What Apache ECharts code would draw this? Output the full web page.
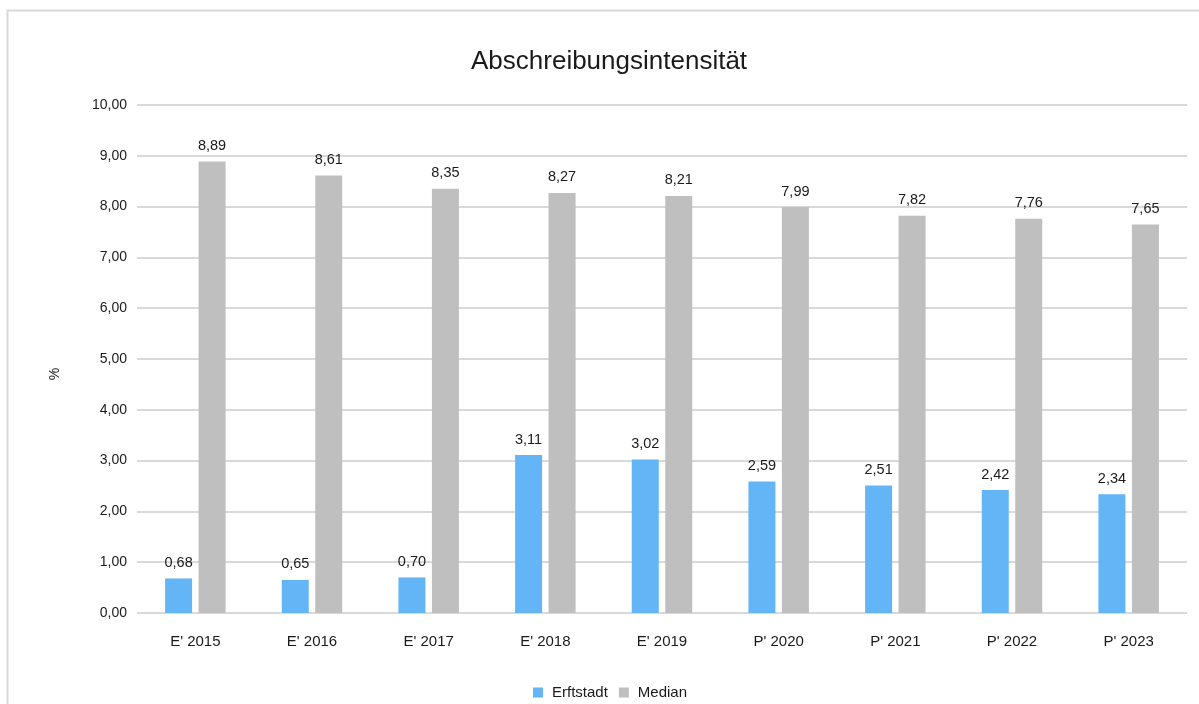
<!DOCTYPE html>
<html><head><meta charset="utf-8">
<script src="https://cdn.jsdelivr.net/npm/echarts@6/dist/echarts.min.js"></script>
<style>html,body{margin:0;padding:0;background:#fff}#c{width:1199px;height:704px}</style>
</head><body><div id="c"></div>
<script>
const categories = ["E' 2015","E' 2016","E' 2017","E' 2018","E' 2019","P' 2020","P' 2021","P' 2022","P' 2023"];
const erftstadt = [0.68,0.65,0.70,3.11,3.02,2.59,2.51,2.42,2.34];
const median = [8.89,8.61,8.35,8.27,8.21,7.99,7.82,7.76,7.65];
const fmt = v => Number(v).toFixed(2).replace('.', ',');
const chart = echarts.init(document.getElementById('c'), null, {renderer:'canvas'});
const font = 'Liberation Sans, Arial, sans-serif';
const lbl = {show:true, position:'top', distance:8, color:'#1a1a1a', fontSize:14.5, fontFamily:font, formatter:p=>fmt(p.value)};
chart.setOption({
  animation:false,
  graphic:[
    {type:'rect', shape:{x:7.5,y:10.5,width:1300,height:800}, style:{fill:'none', stroke:'#d9d9d9', lineWidth:2}, silent:true},
    {type:'text', x:55, y:374, rotation:Math.PI/2, style:{text:'%', fontFamily:font, fontSize:14, fill:'#1a1a1a', align:'center', verticalAlign:'middle'}, silent:true}
  ],
  title:{text:'Abschreibungsintensität', left:466, top:44, textStyle:{fontFamily:font, fontSize:26, fontWeight:'normal', color:'#1a1a1a'}},
  legend:{bottom:-1, left:528, itemWidth:10, itemHeight:10, itemGap:11, icon:'rect', textStyle:{fontFamily:font, fontSize:15, color:'#1a1a1a', padding:[0,0,0,4]}, data:['Erftstadt','Median']},
  grid:{left:137, right:12, top:105, bottom:91, containLabel:false},
  xAxis:{type:'category', data:categories, axisLine:{show:false}, axisTick:{show:false},
    axisLabel:{fontFamily:font, fontSize:15, color:'#1a1a1a', margin:21}},
  yAxis:{type:'value', min:0, max:10, interval:1,
    axisLabel:{fontFamily:font, fontSize:14, color:'#1a1a1a', margin:10, formatter:v=>fmt(v)},
    splitLine:{lineStyle:{color:'#d9d9d9', width:2}}, axisLine:{show:false}, axisTick:{show:false}},
  series:[
    {name:'Erftstadt', type:'bar', data:erftstadt, barWidth:27, barGap:'24%', itemStyle:{color:'#64b5f6'}, label:lbl},
    {name:'Median', type:'bar', data:median, barWidth:27, itemStyle:{color:'#bfbfbf'}, label:lbl}
  ]
});
</script></body></html>
